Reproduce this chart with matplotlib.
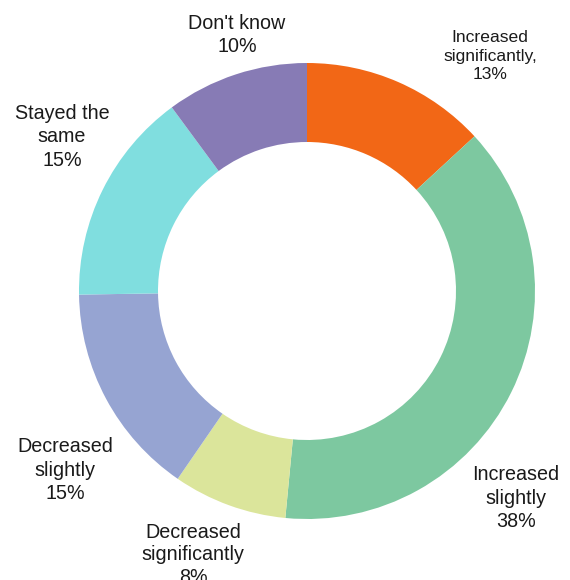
import matplotlib
matplotlib.use("Agg")
import matplotlib.pyplot as plt

categories = ["Increased significantly", "Increased slightly", "Decreased significantly",
              "Decreased slightly", "Stayed the same", "Don't know"]
values = [13, 38, 8, 15, 15, 10]
label_texts = ["Increased\nsignificantly,\n13%", "Increased\nslightly\n38%",
               "Decreased\nsignificantly\n8%", "Decreased\nslightly\n15%",
               "Stayed the\nsame\n15%", "Don't know\n10%"]
colors = ["#F26716", "#7DC8A0", "#DBE59B", "#96A4D2", "#80DEDF", "#877BB5"]

# label positions in pixel-like axes coordinates (styling)
label_pos = [(490, 524), (516, 82), (193, 25), (65, 110), (62, 443), (237, 545)]
label_size = [12.6, 14.2, 14.2, 14.2, 14.2, 14.2]
label_spacing = [1.3, 1.3, 1.25, 1.3, 1.3, 1.3]

plt.rcParams['font.family'] = ['Liberation Sans', 'DejaVu Sans']

fig = plt.figure(figsize=(5.7, 5.8), dpi=100)
ax = fig.add_axes([0, 0, 1, 1])

ax.pie(values, colors=colors, startangle=90, counterclock=False,
       center=(307, 289), radius=228, frame=True,
       wedgeprops=dict(width=79, linewidth=0))
ax.set_xlim(0, 570)
ax.set_ylim(0, 580)
ax.set_aspect('equal')
ax.axis('off')

for txt, (x, y), fs, ls in zip(label_texts, label_pos, label_size, label_spacing):
    ax.text(x, y, txt, ha='center', va='center', fontsize=fs,
            color='#1a1a1a', linespacing=ls)

fig.savefig("out.png", dpi=100)
